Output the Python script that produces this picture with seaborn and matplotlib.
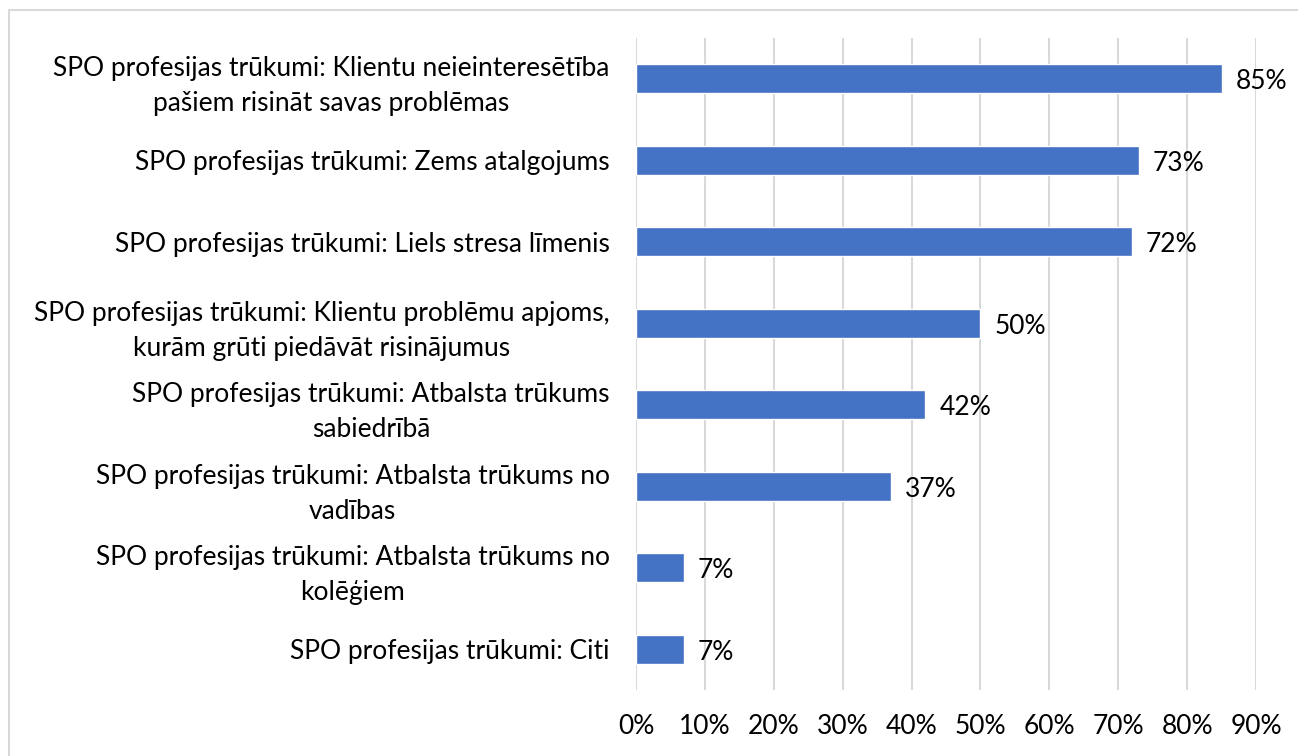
import pandas as pd
import matplotlib.pyplot as plt
import seaborn as sns
from matplotlib.patches import Rectangle

# Chart data (top to bottom)
categories = [
    "SPO profesijas trūkumi: Klientu neieinteresētība\npašiem risināt savas problēmas",
    "SPO profesijas trūkumi: Zems atalgojums",
    "SPO profesijas trūkumi: Liels stresa līmenis",
    "SPO profesijas trūkumi: Klientu problēmu apjoms,\nkurām grūti piedāvāt risinājumus",
    "SPO profesijas trūkumi: Atbalsta trūkums\nsabiedrībā",
    "SPO profesijas trūkumi: Atbalsta trūkums no\nvadības",
    "SPO profesijas trūkumi: Atbalsta trūkums no\nkolēģiem",
    "SPO profesijas trūkumi: Citi",
]
values = [0.85, 0.73, 0.72, 0.50, 0.42, 0.37, 0.07, 0.07]
tick_values = [0.0, 0.1, 0.2, 0.3, 0.4, 0.5, 0.6, 0.7, 0.8, 0.9]
tick_labels = ["0%", "10%", "20%", "30%", "40%", "50%", "60%", "70%", "80%", "90%"]

df = pd.DataFrame({"category": categories, "value": values})

sns.set_theme(style="white")
plt.rcParams["font.family"] = ["Lato", "DejaVu Sans"]
fs = 19

fig = plt.figure(figsize=(12.98, 7.56), dpi=100)
ax = fig.add_axes([636 / 1298, 1 - 690 / 756, 620 / 1298, 652 / 756])

# Chart area frame
fig.patches.append(Rectangle((9 / 1298, -0.1), 1.2, 1 - 10 / 756 + 0.1,
                             transform=fig.transFigure, fill=False,
                             edgecolor="#d9d9d9", linewidth=1.5, zorder=0))

sns.barplot(data=df, x="value", y="category", color="#4472C4", width=0.35,
            saturation=1, ax=ax, zorder=3)

ax.set_xlim(0, 0.9)
ax.set_ylim(len(categories) - 0.5, -0.5)
ax.set_xticks(tick_values)
ax.set_xticklabels(tick_labels)
ax.set_yticks(range(len(categories)))
ax.set_yticklabels(categories, multialignment="center", linespacing=1.5)
ax.grid(axis="x", color="#d9d9d9", linewidth=1.5, zorder=0)
ax.grid(axis="y", visible=False)
for s in ax.spines.values():
    s.set_visible(False)
ax.tick_params(axis="x", length=0, pad=17, labelsize=fs, labelcolor="#000000")
ax.tick_params(axis="y", length=0, pad=19, labelsize=fs, labelcolor="#000000")
ax.set_xlabel("")
ax.set_ylabel("")

for i, v in enumerate(values):
    ax.annotate(f"{round(v * 100)}%", (v, i), xytext=(10, -2),
                textcoords="offset points", va="center", ha="left",
                fontsize=fs, color="#000000")

plt.savefig("out.png", dpi=100)
